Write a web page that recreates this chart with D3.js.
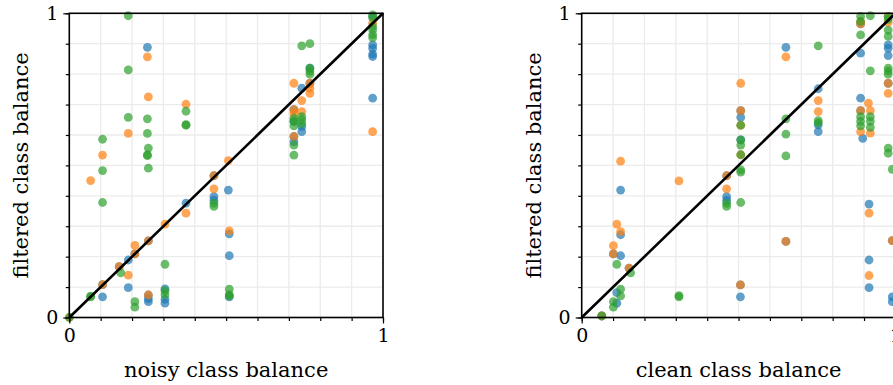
<!DOCTYPE html>
<html>
<head>
<meta charset="utf-8">
<script src="https://cdn.jsdelivr.net/npm/d3@7"></script>
<style>
  body { margin: 0; background: #fff; }
  svg { display: block; font-family: "DejaVu Serif", serif; }
</style>
</head>
<body>
<svg id="chart" width="893" height="385"></svg>
<script>
// series colours (matplotlib tab10)
const seriesColors = ["#1f77b4", "#ff7f0e", "#2ca02c"];

// left panel: noisy class balance vs filtered class balance
const noisyBlue = [
  [.249,.888],[.461,.397],[.461,.385],[.507,.419],[.372,.376],[.209,.209],[.461,.466],[.252,.252],
  [.188,.189],[.159,.167],[.106,.108],[.106,.068],[.188,.098],[.252,.074],[.252,.052],[.252,.062],
  [.305,.094],[.305,.047],[.305,.06],[.51,.275],[.51,.203],[.51,.068],[.716,.683],[.716,.645],
  [.716,.595],[.716,.578],[.741,.754],[.741,.628],[.741,.611],[.767,.77],[.767,.82],[.967,.99],
  [.967,.896],[.967,.885],[.967,.866],[.967,.858],[.967,.721]
];
const noisyOrange = [
  [.249,.857],[.252,.725],[.372,.701],[.188,.605],[.106,.534],[.068,.45],[.507,.516],[.461,.466],
  [.461,.423],[.372,.343],[.305,.307],[.209,.237],[.252,.252],[.209,.209],[.159,.167],[.188,.139],
  [.106,.108],[.252,.074],[.51,.285],[.716,.77],[.716,.683],[.716,.67],[.716,.595],[.741,.713],
  [.741,.677],[.767,.77],[.767,.754],[.767,.737],[.967,.968],[.967,.611],[0,0]
];
const noisyGreen = [
  [.188,.992],[.188,.814],[.372,.678],[.372,.634],[.372,.632],[.188,.658],[.249,.653],[.249,.605],
  [.106,.586],[.252,.557],[.249,.532],[.249,.535],[.106,.483],[.252,.491],[.106,.378],[.461,.375],
  [.461,.365],[.164,.147],[.068,.068],[.068,.07],[.305,.175],[.209,.052],[.209,.034],[.305,.075],
  [.305,.088],[.51,.093],[.51,.071],[.51,.075],[.741,.893],[.767,.9],[.767,.82],[.767,.81],
  [.767,.80],[.716,.655],[.716,.645],[.716,.63],[.716,.567],[.716,.534],[.741,.65],[.741,.637],
  [.741,.66],[.967,.995],[.967,.985],[.967,.957],[.967,.946],[.967,.93],[.967,.92],[0,0]
];

// right panel: clean class balance vs filtered class balance
const cleanBlue = [
  [.651,.888],[.754,.752],[.754,.633],[.754,.611],[.507,.68],[.507,.658],[.507,.584],[.462,.466],
  [.462,.397],[.462,.385],[.124,.419],[.124,.272],[.101,.209],[.124,.203],[.151,.162],[.112,.082],
  [.112,.047],[.064,.005],[.506,.107],[.506,.068],[.651,.25],[.916,.373],[.916,.189],[.916,.098],
  [.99,.253],[.99,.068],[.99,.052],[.889,.869],[.889,.721],[.889,.68],[.896,.589],[.889,.965],
  [.977,.896],[.977,.885],[.977,.861],[.977,.77]
];
const cleanOrange = [
  [.124,.514],[.507,.77],[.507,.68],[.507,.632],[.507,.535],[.651,.857],[.754,.713],[.754,.677],
  [.889,.973],[.889,.965],[.914,.705],[.889,.68],[.92,.68],[.889,.611],[.92,.606],[.462,.466],
  [.462,.423],[.112,.307],[.124,.282],[.101,.236],[.101,.209],[.151,.162],[.064,.005],[.31,.449],
  [.916,.343],[.916,.138],[.99,.253],[.506,.107],[.651,.25],[.977,.99],[.977,.97],[.977,.77],
  [.977,.737]
];
const cleanGreen = [
  [.507,.632],[.507,.584],[.507,.567],[.507,.535],[.507,.485],[.507,.478],[.507,.378],[.754,.893],
  [.754,.647],[.754,.64],[.651,.653],[.651,.603],[.651,.531],[.889,.99],[.889,.973],[.889,.929],
  [.92,.992],[.92,.811],[.889,.66],[.92,.66],[.889,.645],[.92,.645],[.889,.63],[.92,.625],
  [.462,.375],[.462,.365],[.112,.175],[.156,.147],[.124,.093],[.124,.071],[.101,.052],[.101,.034],
  [.064,.005],[.31,.068],[.31,.072],[.977,.99],[.977,.98],[.977,.945],[.977,.924],[.977,.82],
  [.977,.81],[.977,.80],[.977,.557],[.977,.54],[.99,.487]
];

const majorTicks = [0, 1];
const gridTicks = d3.range(0, 1.0001, 0.1);
const yLabel = "filtered class balance";

const svg = d3.select("#chart");

// Panel layout
const panelW = 313.7, panelH = 304.2;
const panels = [
  { left: 69.3, top: 13.3, xLabel: "noisy class balance", series: [noisyBlue, noisyOrange, noisyGreen] },
  { left: 581.7, top: 13.3, xLabel: "clean class balance", series: [cleanBlue, cleanOrange, cleanGreen] }
];

panels.forEach(p => drawPanel(p));

function drawPanel(p) {
  const g = svg.append("g").attr("transform", "translate(" + p.left + "," + p.top + ")");

  const x = d3.scaleLinear().domain([0, 1]).range([0, panelW]);
  const y = d3.scaleLinear().domain([0, 1]).range([panelH, 0]);

  // grid
  g.append("g").selectAll("line.gx").data(gridTicks).join("line")
    .attr("x1", d => x(d)).attr("x2", d => x(d))
    .attr("y1", 0).attr("y2", panelH)
    .attr("stroke", "#ebebeb").attr("stroke-width", 1.3);
  g.append("g").selectAll("line.gy").data(gridTicks).join("line")
    .attr("y1", d => y(d)).attr("y2", d => y(d))
    .attr("x1", 0).attr("x2", panelW)
    .attr("stroke", "#ebebeb").attr("stroke-width", 1.3);

  // points
  p.series.forEach((pts, i) => {
    g.append("g").selectAll("circle").data(pts).join("circle")
      .attr("cx", d => x(d[0]))
      .attr("cy", d => y(d[1]))
      .attr("r", 4.4)
      .attr("fill", seriesColors[i])
      .attr("fill-opacity", 0.7);
  });

  // identity line
  g.append("line")
    .attr("x1", x(0)).attr("y1", y(0))
    .attr("x2", x(1)).attr("y2", y(1))
    .attr("stroke", "#000").attr("stroke-width", 2.6);

  // axes: minor ticks + major ticks
  const xMinor = d3.axisBottom(x).tickValues(gridTicks).tickSize(3.5).tickFormat("");
  const yMinor = d3.axisLeft(y).tickValues(gridTicks).tickSize(3.5).tickFormat("");
  const xMajor = d3.axisBottom(x).tickValues(majorTicks).tickSize(6).tickPadding(5).tickFormat(d3.format("d"));
  const yMajor = d3.axisLeft(y).tickValues(majorTicks).tickSize(6).tickPadding(5).tickFormat(d3.format("d"));

  [xMinor, xMajor].forEach(a => g.append("g").attr("transform", "translate(0," + panelH + ")").call(a));
  [yMinor, yMajor].forEach(a => g.append("g").call(a));

  g.selectAll(".domain").remove();
  g.selectAll(".tick line").attr("stroke", "#000").attr("stroke-width", 1.2);
  g.selectAll(".tick text").attr("font-family", "DejaVu Serif").attr("font-size", 19).attr("fill", "#000");

  // frame
  g.append("rect")
    .attr("width", panelW).attr("height", panelH)
    .attr("fill", "none").attr("stroke", "#000").attr("stroke-width", 1.6);

  // labels
  g.append("text")
    .attr("x", panelW / 2).attr("y", panelH + 60)
    .attr("text-anchor", "middle")
    .attr("font-size", 21)
    .text(p.xLabel);
  g.append("text")
    .attr("transform", "translate(-41," + panelH / 2 + ") rotate(-90)")
    .attr("text-anchor", "middle")
    .attr("font-size", 21)
    .text(yLabel);
}
</script>
</body>
</html>
